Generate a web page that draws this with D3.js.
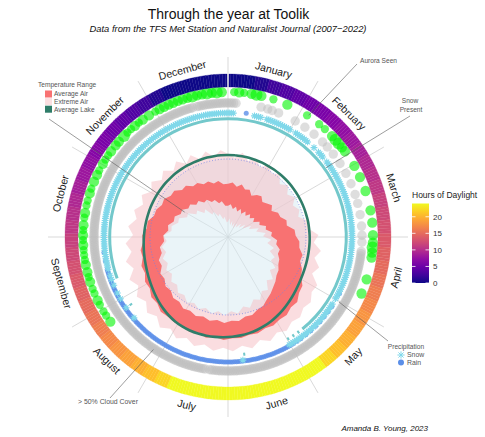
<!DOCTYPE html>
<html><head><meta charset="utf-8">
<script src="https://cdn.jsdelivr.net/npm/d3@7"></script>
<style>body{margin:0;background:#fff}svg{display:block;font-family:"Liberation Sans",Arial,sans-serif}</style>
</head><body><svg id="c" width="485" height="437"></svg>
<script>
// ---------------- DATA ----------------
const months = ["January","February","March","April","May","June","July","August","September","October","November","December"];
const monthLengths = [31,28,31,30,31,30,31,31,30,31,30,31];
// sample days (every 5 days, day-of-year starting at 0 = Jan 1)
const tempDays = [0,5,10,15,20,25,30,35,40,45,50,55,60,65,70,75,80,85,90,95,100,105,110,115,120,125,130,135,140,145,150,155,160,165,170,175,180,185,190,195,200,205,210,215,220,225,230,235,240,245,250,255,260,265,270,275,280,285,290,295,300,305,310,315,320,325,330,335,340,345,350,355,360];
// Average air range: upper / lower (°C)
const avgMax = [-19.0,-17.9,-20.8,-18.3,-21.2,-20.1,-23.5,-20.8,-19.5,-22.2,-20.5,-18.3,-21.0,-17.2,-16.9,-13.2,-13.9,-8.5,-8.0,-5.0,-4.5,-1.0,-1.5,2.0,4.0,8.5,9.5,13.0,12.5,15.0,14.8,16.5,15.8,17.5,17.0,18.3,18.0,19.4,17.6,19.4,17.1,18.9,16.6,17.5,16.8,17.4,14.6,15.0,12.0,12.5,9.6,10.2,7.5,8.0,5.5,6.0,2.8,3.0,-0.8,-1.0,-3.5,-2.8,-5.8,-5.5,-9.5,-9.0,-12.7,-12.3,-15.3,-14.7,-17.5,-16.3,-19.2];
const avgMin = [-36.0,-34.8,-38.2,-35.9,-39.1,-36.4,-39.5,-36.2,-38.9,-35.6,-38.0,-35.1,-37.4,-33.0,-34.1,-29.6,-30.4,-26.0,-26.8,-22.1,-22.5,-19.0,-19.5,-17.0,-16.0,-13.5,-12.5,-10.0,-8.0,-5.5,-3.5,-0.5,0.2,2.8,2.6,5.2,4.4,6.3,4.3,6.0,4.0,5.6,3.8,4.9,2.3,3.0,0.3,1.1,-1.6,-0.9,-4.5,-3.9,-7.6,-7.0,-10.8,-10.2,-13.8,-13.0,-16.6,-16.1,-19.6,-19.0,-22.4,-21.6,-25.2,-24.2,-27.8,-27.0,-30.3,-29.8,-33.2,-32.1,-35.8];
// Extreme air max / min (°C)
const extMax = [4.0,1.2,5.8,0.4,3.9,-1.0,3.5,-0.8,2.6,-3.2,1.0,-3.9,-0.2,-4.6,-1.2,-3.8,3.4,1.9,9.6,6.1,12.3,8.4,13.9,10.5,18.0,17.0,21.0,19.5,23.0,21.5,25.0,22.5,26.4,23.0,27.6,24.3,28.0,25.2,28.2,24.6,27.9,24.0,27.6,23.2,27.1,21.9,25.3,20.2,23.9,18.4,22.6,16.5,20.8,15.0,18.9,13.1,17.2,11.6,15.1,10.0,13.8,8.4,12.6,7.2,11.3,6.0,10.4,4.8,9.1,3.6,8.0,2.4,6.9];
const extMin = [-48.0,-45.6,-50.9,-46.8,-51.5,-47.9,-52.3,-47.0,-50.6,-45.4,-49.1,-43.5,-47.2,-40.1,-42.8,-35.4,-37.9,-30.8,-33.0,-26.5,-29.4,-23.6,-26.1,-20.8,-22.5,-16.4,-19.0,-12.6,-15.4,-9.0,-10.9,-5.8,-8.1,-3.0,-5.2,-0.6,-2.9,0.4,-2.5,0.2,-2.8,-0.1,-3.0,-0.6,-4.1,-2.4,-6.3,-4.5,-8.4,-6.0,-9.5,-7.1,-11.0,-8.6,-12.7,-10.3,-16.2,-15.8,-20.1,-19.6,-25.0,-24.2,-30.1,-28.7,-34.2,-32.4,-38.9,-37.6,-42.4,-41.1,-45.8,-44.2,-48.6];
// Average lake temperature (°C)
const lakeTemp = [3.1,3.1,3.0,3.0,2.9,2.9,2.8,2.8,2.7,2.7,2.7,2.6,2.6,2.6,2.6,2.6,2.7,2.7,2.8,2.9,3.0,3.2,3.5,3.9,4.5,5.3,6.3,7.5,8.8,10.2,11.5,12.8,13.9,14.9,15.7,16.3,16.8,17.2,17.5,17.7,17.8,17.7,17.3,16.6,15.6,14.3,12.9,11.4,10.0,8.8,7.7,6.8,6.1,5.5,5.0,4.6,4.3,4.1,3.9,3.8,3.7,3.6,3.5,3.5,3.4,3.4,3.3,3.3,3.2,3.2,3.2,3.1,3.1];
// Hours of daylight (same 5-day sampling)
const daylight = [0,0,0.8,2.3,3.3,4.2,5.0,5.8,6.5,7.25,7.97,8.7,9.38,10.07,10.75,11.45,12.13,12.82,13.5,14.22,14.92,15.65,16.4,17.15,17.95,18.78,19.7,20.7,22.0,24,24,24,24,24,24,24,24,24,24,24,24,22.0,20.7,19.7,18.78,17.95,17.15,16.4,15.65,14.92,14.22,13.5,12.82,12.13,11.45,10.75,10.07,9.38,8.7,7.97,7.25,6.5,5.8,5.0,4.2,3.3,2.3,0.8,0,0,0,0,0];
// Aurora seen: day of year and number of years seen
const auroraDays =   [2,4,6,9,11,13,18,24,33,39,42,46,48,50,52,54,61,66,72,80,85,90,93,95,97,99,108,114,
  237,240,242,245,247,250,252,255,257,259,262,264,266,268,270,272,274,276,278,281,283,286,288,291,293,296,299,301,304,306,308,310,313,315,318,320,322,324,326,328,331,334,336,338,340,342,344,346,348,350,352,354,356,358,360,362];
const auroraCounts = [2,3,2,3,4,3,2,3,2,2,2,3,4,4,3,3,3,3,3,3,3,3,3,4,3,3,3,3,
  3,2,2,2,3,2,2,3,2,3,3,2,2,2,3,2,3,2,3,2,3,2,2,3,2,3,3,2,3,2,2,3,3,3,4,2,2,3,2,3,3,2,3,3,3,3,3,3,3,4,3,3,4,3,4,3];
// > 50% cloud cover days (runs of consecutive days + single days)
const cloudRuns = [[0,3],[97,190],[192,274],[275,349],[351,364]];
const cloudSingles = [14,17,19,22,30,35,40,45,48,52,57,62,67,72,76,81,86,90,93];
// precipitation days
const snowRuns = [[0,2],[12,15],[18,30],[33,40],[47,50],[53,121],[124,152],[258,364]];
const snowSingles = [44,175,232,238,243,246,250,253,255];
const rainRuns = [[150,258]];
const rainSingles = [8,118,125,128,131,134,137,140,143,146,148,262,266];
// snow on the ground
const snowCoverRuns = [[253,365],[0,143],[145,146],[148,149],[151,152]];
const snowCoverSingles = [174,238];
const daylightTicks = [0,5,10,15,20];

// ---------------- DRAW ----------------
const cx = 228, cy = 237;
const svg = d3.select("#c");
const g = svg.append("g").attr("transform", `translate(${cx},${cy})`);
const ang = d3.scaleLinear().domain([0,365]).range([0, 2*Math.PI]);
const rT = d3.scaleLinear().domain([-60,25]).range([0,110.5]);
const plasma = d3.scaleSequential(d3.interpolatePlasma).domain([0,24]);
const P = (day, r) => [r*Math.sin(ang(day)), -r*Math.cos(ang(day))];
const expand = runs => runs.flatMap(([a,b]) => d3.range(a, b+1));

// spokes
g.append("g").selectAll("line").data(d3.range(12)).join("line")
  .attr("x1",0).attr("y1",0)
  .attr("x2",k=>180*Math.sin(k*Math.PI/6)).attr("y2",k=>-180*Math.cos(k*Math.PI/6))
  .attr("stroke","#c9c9c9").attr("stroke-width",0.7);

// pale zero disk
g.append("circle").attr("r", rT(0)).attr("fill","#d5eaf2").attr("fill-opacity",0.5);

const loop = d3.lineRadial().angle(d=>ang(d[0])).radius(d=>rT(d[1])).curve(d3.curveLinearClosed);
const band = (lo, hi) => loop(tempDays.map((d,i)=>[d,hi[i]])) + loop(tempDays.map((d,i)=>[d,lo[i]]));
g.append("path").attr("d", band(extMin, extMax)).attr("fill","#f5bcc2").attr("fill-opacity",0.5).attr("fill-rule","evenodd");
g.append("path").attr("d", band(avgMin, avgMax)).attr("fill","#f87272").attr("fill-rule","evenodd");
g.append("circle").attr("r", rT(0)).attr("fill","none").attr("stroke","#6f82e6").attr("stroke-width",0.9).attr("stroke-dasharray","0.9,2");
g.append("path")
  .attr("d", d3.lineRadial().angle(d=>ang(d[0])).radius(d=>rT(d[1])).curve(d3.curveCatmullRomClosed)(tempDays.map((d,i)=>[d,lakeTemp[i]])))
  .attr("fill","none").attr("stroke","#2f7d69").attr("stroke-width",2.6);

// snow cover (teal arcs)
const coverArc = d3.arc().innerRadius(116.8).outerRadius(119.8);
g.append("g").selectAll("path").data(snowCoverRuns.concat(snowCoverSingles.map(d=>[d,d+1]))).join("path")
  .attr("d", ([a,b]) => coverArc({startAngle: ang(a), endAngle: ang(b)}))
  .attr("fill","#73c8cb");

// rain
const rainDays = expand(rainRuns).concat(rainSingles);
g.append("g").selectAll("circle").data(rainDays).join("circle")
  .attr("cx", d=>P(d+0.5,125)[0]).attr("cy", d=>P(d+0.5,125)[1]).attr("r",2.5)
  .attr("fill","#5b8fe8").attr("fill-opacity",0.8);

// snow stars
const starPath = s => { const b=s*0.707; return `M${-s},0L${s},0M0,${-s}L0,${s}M${-b},${-b}L${b},${b}M${-b},${b}L${b},${-b}`; };
const snowDays = expand(snowRuns).concat(snowSingles);
g.append("g").selectAll("path").data(snowDays).join("path")
  .attr("transform", d=>`translate(${P(d+0.5,124)})`)
  .attr("d", starPath(3.4)).attr("stroke","#80d8ea").attr("stroke-width",1.1).attr("fill","none");

// clouds
const cloudDays = expand(cloudRuns).concat(cloudSingles);
g.append("g").selectAll("circle").data(cloudDays).join("circle")
  .attr("cx", d=>P(d+0.5,134)[0]).attr("cy", d=>P(d+0.5,134)[1]).attr("r",4.7)
  .attr("fill","#bdbdbd").attr("fill-opacity",0.5);

// aurora
const aSize = d3.scaleSqrt().domain([1,4]).range([2.8,6]);
g.append("g").selectAll("circle").data(auroraDays.map((d,i)=>({d, n: auroraCounts[i]}))).join("circle")
  .attr("cx", o=>P(o.d+0.5,145)[0]).attr("cy", o=>P(o.d+0.5,145)[1]).attr("r", o=>aSize(o.n))
  .attr("fill","#00f500").attr("fill-opacity",0.6);

// daylight ring
const ringArc = d3.arc().innerRadius(150).outerRadius(163);
g.append("g").selectAll("path").data(d3.range(365)).join("path")
  .attr("d", i => ringArc({startAngle: ang(i) + (i===0?0.006:0), endAngle: ang(i+1) - (i===364?0.006:0)}))
  .attr("fill", i => plasma(daylight[Math.floor(i/5)]))
  .attr("stroke", i => plasma(daylight[Math.floor(i/5)])).attr("stroke-width",0.3);

// month labels
let acc = 0;
months.forEach((m,i) => {
  const mid = acc + monthLengths[i]/2; acc += monthLengths[i];
  const deg = mid/365*360;
  const [x,y] = P(mid,173);
  const rot = (deg>90 && deg<270) ? deg-180 : deg;
  g.append("text").attr("transform",`translate(${x},${y}) rotate(${rot})`)
    .attr("text-anchor","middle").attr("dy","0.35em").attr("font-size",10.6).attr("fill","#1a1a1a").text(m);
});

// annotation leaders
const lead = (x1,y1,day,r) => { const [x,y]=P(day,r);
  svg.append("line").attr("x1",x1).attr("y1",y1).attr("x2",cx+x).attr("y2",cy+y).attr("stroke","#5a5a5a").attr("stroke-width",0.6); };
lead(357,64,34,146);
lead(410,116,55.5,120);
lead(49,119,304,50);
lead(110,398,216.5,135);
lead(388,341,122,128.5);

const note = (x,y,t,anchor="start",size=6.6) => svg.append("text").attr("x",x).attr("y",y).attr("dy","0.35em")
  .attr("text-anchor",anchor).attr("font-size",size).attr("fill","#555").text(t);
note(360,61,"Aurora Seen");
note(410,101,"Snow","middle");
note(411,110,"Present","middle");
note(78,402,"> 50% Cloud Cover","start",6.9);

// temperature legend
note(38,85,"Temperature Range");
const tl = [["Average Air","#f87272"],["Extreme Air","#fbdfe1"],["Average Lake","#2f7d69"]];
tl.forEach(([t,c],i)=>{
  svg.append("rect").attr("x",45).attr("y",90.5+i*7.6).attr("width",7).attr("height",7).attr("fill",c);
  note(54,94+i*7.6,t);
});

// precipitation legend
note(406,347,"Precipitation","middle");
svg.append("path").attr("transform","translate(401,355)").attr("d",starPath(3.6)).attr("stroke","#80d8ea").attr("stroke-width",1).attr("fill","none");
note(407,355,"Snow","start",6.9);
svg.append("circle").attr("cx",401).attr("cy",362.5).attr("r",3).attr("fill","#5b8fe8");
note(407,362.5,"Rain","start",6.9);

// daylight colorbar
const defs = svg.append("defs");
const grad = defs.append("linearGradient").attr("id","pl").attr("x1",0).attr("y1",1).attr("x2",0).attr("y2",0);
d3.range(0,1.0001,0.1).forEach(t => grad.append("stop").attr("offset",t).attr("stop-color", d3.interpolatePlasma(t)));
const yC = d3.scaleLinear().domain([0,24]).range([283,203.5]);
svg.append("rect").attr("x",412).attr("y",yC(24)).attr("width",17).attr("height",yC(0)-yC(24)).attr("fill","url(#pl)");
svg.append("text").attr("x",412).attr("y",198).attr("font-size",8.5).attr("fill","#222").text("Hours of Daylight");
daylightTicks.forEach(v=>{
  svg.append("line").attr("x1",412).attr("x2",415.5).attr("y1",yC(v)).attr("y2",yC(v)).attr("stroke","#fff").attr("stroke-width",0.8);
  svg.append("line").attr("x1",425.5).attr("x2",429).attr("y1",yC(v)).attr("y2",yC(v)).attr("stroke","#fff").attr("stroke-width",0.8);
  svg.append("text").attr("x",433).attr("y",yC(v)).attr("dy","0.35em").attr("font-size",8).attr("fill","#333").text(v);
});

// titles
svg.append("text").attr("x",228.5).attr("y",18.5).attr("text-anchor","middle").attr("font-size",14).attr("fill","#111").text("Through the year at Toolik");
svg.append("text").attr("x",228).attr("y",32).attr("text-anchor","middle").attr("font-size",9.4).attr("font-style","italic").attr("fill","#111").text("Data from the TFS Met Station and Naturalist Journal (2007\u22122022)");
svg.append("text").attr("x",428).attr("y",431).attr("text-anchor","end").attr("font-size",8).attr("font-style","italic").attr("fill","#111").text("Amanda B. Young, 2023");
</script></body></html>
